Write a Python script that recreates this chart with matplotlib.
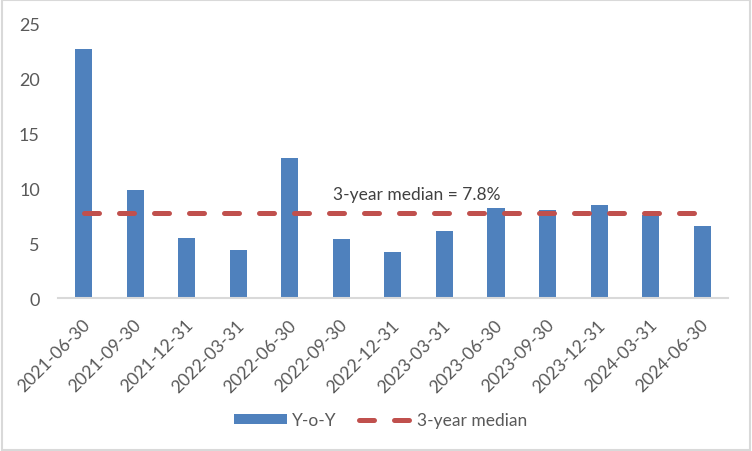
import matplotlib
matplotlib.use("Agg")
import matplotlib.pyplot as plt
import matplotlib.transforms as mtransforms
from matplotlib.lines import Line2D
from matplotlib.patches import Patch, Rectangle

categories = ["2021-06-30", "2021-09-30", "2021-12-31", "2022-03-31", "2022-06-30",
              "2022-09-30", "2022-12-31", "2023-03-31", "2023-06-30", "2023-09-30",
              "2023-12-31", "2024-03-31", "2024-06-30"]
yoy = [22.7, 9.85, 5.45, 4.4, 12.75, 5.4, 4.2, 6.1, 8.2, 8.0, 8.5, 7.6, 6.55]
median_val = 7.8
median_series = [median_val] * len(categories)
y_ticks = [0, 5, 10, 15, 20, 25]

plt.rcParams['font.family'] = ['Lato', 'DejaVu Sans']
text_color = "#595959"
bar_color = "#4F81BD"
line_color = "#C0504D"

fig = plt.figure(figsize=(7.52, 4.52), dpi=100)
ax = fig.add_axes([0.077, 0.338, 0.891, 0.607])

x = list(range(len(categories)))
ax.bar(x, yoy, width=0.33, color=bar_color, zorder=2)
ax.plot(x, median_series, color=line_color, lw=3.6, dashes=(3, 4),
        dash_capstyle='round', zorder=3)
ax.text(6.46, 9.5, "3-year median = 7.8%", ha='center', va='center',
        fontsize=12.5, color="#404040")

ax.set_xlim(-0.5, len(categories) - 0.5)
ax.set_ylim(0, 25)
ax.set_yticks(y_ticks)
ax.set_xticks(x)
ax.set_xticklabels(categories, rotation=45, ha='right', rotation_mode='anchor')
ax.tick_params(axis='y', length=0, colors=text_color, labelsize=13, pad=13)
ax.tick_params(axis='x', length=0, colors=text_color, labelsize=12.6, pad=13)
offset = mtransforms.ScaledTranslation(-0.02, 0, fig.dpi_scale_trans)
for lab in ax.get_xticklabels():
    lab.set_transform(lab.get_transform() + offset)
for s in ['top', 'right', 'left']:
    ax.spines[s].set_visible(False)
ax.spines['bottom'].set_color("#D9D9D9")
ax.spines['bottom'].set_linewidth(1.5)

handles = [Patch(facecolor=bar_color, label="Y-o-Y"),
           Line2D([0], [0], color=line_color, lw=3.6, dashes=(3, 4),
                  dash_capstyle='round', label="3-year median")]
leg = fig.legend(handles=handles, loc='center', bbox_to_anchor=(0.506, 0.068),
                 ncol=2, frameon=False, fontsize=12.5, handlelength=3.1,
                 handleheight=0.55, columnspacing=1.3, handletextpad=0.25)
for t in leg.get_texts():
    t.set_color(text_color)

fig.patches.append(Rectangle((0.002, 0.003), 0.996, 0.994, transform=fig.transFigure,
                             fill=False, edgecolor="#D9D9D9", lw=1.5))
fig.savefig("out.png", dpi=100)
